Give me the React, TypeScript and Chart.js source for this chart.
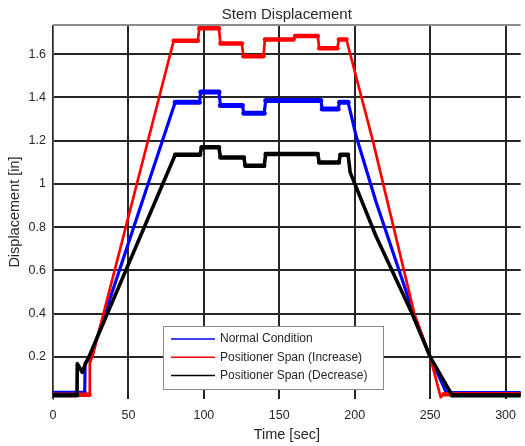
import React, { useEffect, useRef } from "react";
import { Chart, registerables } from "chart.js";

Chart.register(...registerables);

// ---- Data (time [sec], displacement [in]) ----
const normalTime = [0, 21, 21.3, 23, 25, 81, 97, 98, 110, 111, 125.5, 126.5, 140, 141, 177.5, 178.5, 189, 190, 195.6, 201, 214, 239, 250, 261, 310];
const normalDisp = [0.032, 0.032, 0.17, 0.183, 0.2, 1.378, 1.378, 1.425, 1.425, 1.363, 1.363, 1.327, 1.327, 1.386, 1.386, 1.347, 1.347, 1.378, 1.378, 1.22, 0.92, 0.4, 0.2, 0.03, 0.03];

const increaseTime = [0, 24.2, 24.4, 26.5, 80, 96, 97, 110, 111, 125.2, 126.2, 139.5, 140.5, 159.5, 160.5, 175.5, 176.5, 188.5, 189.5, 194.5, 212, 239.5, 250, 257, 259, 310];
const increaseDisp = [0.025, 0.025, 0.17, 0.21, 1.662, 1.662, 1.72, 1.72, 1.65, 1.65, 1.59, 1.59, 1.668, 1.668, 1.684, 1.684, 1.627, 1.627, 1.668, 1.668, 1.2, 0.4, 0.2, 0.013, 0.027, 0.027];

const decreaseTime = [0, 15.9, 16.1, 19.4, 21.6, 23.8, 81, 97.5, 98.5, 110, 111, 126.5, 127.5, 140, 141, 175.5, 176.5, 189.5, 190.5, 195.6, 197, 214, 238, 250, 264.6, 310];
const decreaseDisp = [0.022, 0.022, 0.169, 0.128, 0.17, 0.2, 1.135, 1.135, 1.169, 1.169, 1.122, 1.122, 1.084, 1.084, 1.138, 1.138, 1.099, 1.099, 1.135, 1.135, 1.053, 0.76, 0.4, 0.2, 0.022, 0.022];

const seriesNames = ["Normal Condition", "Positioner Span (Increase)", "Positioner Span (Decrease)"];
const seriesColors = ["#0000ff", "#ff0000", "#000000"];

const xTicks = [0, 50, 100, 150, 200, 250, 300];
const yTicks = [0.2, 0.4, 0.6, 0.8, 1.0, 1.2, 1.4, 1.6];

const chartTitle = "Stem Displacement";
const xLabel = "Time [sec]";
const yLabel = "Displacement [in]";

const FONT = "'Liberation Sans', Arial, Helvetica, sans-serif";
const TEXT = "#262626";

const toPoints = (t: number[], v: number[]) => t.map((x, i) => ({ x, y: v[i] }));

const widthFor = (flatW: number, rampW: number) => (ctx: any) => {
  const dy = Math.abs(ctx.p1.parsed.y - ctx.p0.parsed.y);
  const dx = Math.abs(ctx.p1.parsed.x - ctx.p0.parsed.x);
  return dy < 0.005 && dx > 3 ? flatW : rampW;
};

const titlePlugin = {
  id: "customTitle",
  afterDraw(chart: any) {
    const { ctx, chartArea } = chart;
    ctx.save();
    ctx.font = `15px ${FONT}`;
    ctx.fillStyle = TEXT;
    ctx.textAlign = "center";
    ctx.textBaseline = "alphabetic";
    ctx.fillText(chartTitle, (chartArea.left + chartArea.right) / 2, 19);
    ctx.restore();
  },
};

const framePlugin = {
  id: "frame",
  afterDatasetsDraw(chart: any) {
    const { ctx, chartArea } = chart;
    ctx.save();
    ctx.strokeStyle = "#8c8c8c";
    ctx.lineWidth = 2;
    ctx.beginPath();
    ctx.moveTo(chartArea.left, chartArea.top);
    ctx.lineTo(chartArea.right, chartArea.top);
    ctx.stroke();
    ctx.restore();
  },
};

const legendPlugin = {
  id: "insideLegend",
  afterDraw(chart: any) {
    const { ctx, chartArea } = chart;
    const left = chartArea.left + 110;
    const top = chartArea.bottom - 73;
    const w = 220;
    const h = 63;
    ctx.save();
    ctx.fillStyle = "#ffffff";
    ctx.fillRect(left, top, w, h);
    ctx.strokeStyle = "#8a8a8a";
    ctx.lineWidth = 1;
    ctx.strokeRect(left + 0.5, top + 0.5, w, h);
    ctx.font = `12px ${FONT}`;
    ctx.textBaseline = "middle";
    ctx.textAlign = "left";
    seriesNames.forEach((name, i) => {
      const y = top + 13 + i * 18.3;
      ctx.strokeStyle = seriesColors[i];
      ctx.lineWidth = 1.5;
      ctx.beginPath();
      ctx.moveTo(left + 8, y);
      ctx.lineTo(left + 52, y);
      ctx.stroke();
      ctx.fillStyle = TEXT;
      ctx.fillText(name, left + 57, y);
    });
    ctx.restore();
  },
};

export default function App() {
  const canvasRef = useRef<HTMLCanvasElement | null>(null);

  useEffect(() => {
    if (!canvasRef.current) return;
    const common = { pointRadius: 0, tension: 0, borderJoinStyle: "round" as const, borderCapStyle: "round" as const };
    const chart = new Chart(canvasRef.current, {
      type: "line",
      data: {
        datasets: [
          {
            label: seriesNames[0],
            data: toPoints(normalTime, normalDisp),
            borderColor: seriesColors[0],
            borderWidth: 3,
            segment: { borderWidth: widthFor(5, 3.2) },
            order: 2,
            ...common,
          },
          {
            label: seriesNames[1],
            data: toPoints(increaseTime, increaseDisp),
            borderColor: seriesColors[1],
            borderWidth: 2.6,
            segment: { borderWidth: widthFor(4.5, 2.7) },
            order: 1,
            ...common,
          },
          {
            label: seriesNames[2],
            data: toPoints(decreaseTime, decreaseDisp),
            borderColor: seriesColors[2],
            borderWidth: 3.5,
            segment: { borderWidth: widthFor(4.5, 3.6) },
            order: 0,
            ...common,
          },
        ],
      },
      options: {
        animation: false,
        responsive: false,
        maintainAspectRatio: false,
        layout: { padding: { top: 25, left: 0, right: 0, bottom: 0 } },
        plugins: { legend: { display: false }, tooltip: { enabled: false }, title: { display: false } },
        scales: {
          x: {
            type: "linear",
            min: 0,
            max: 310,
            afterBuildTicks: (scale: any) => {
              scale.ticks = xTicks.map((value) => ({ value }));
            },
            afterFit: (scale: any) => {
              scale.height = 47;
            },
            grid: { color: "#262626", lineWidth: 2, drawTicks: false },
            border: { display: false },
            ticks: { color: TEXT, font: { family: FONT, size: 12.5 }, padding: 9, maxRotation: 0 },
            title: { display: true, text: xLabel, color: TEXT, font: { family: FONT, size: 14.5 }, padding: { top: 0, bottom: 2 } },
          },
          y: {
            type: "linear",
            min: 0.005,
            max: 1.735,
            afterBuildTicks: (scale: any) => {
              scale.ticks = yTicks.map((value) => ({ value }));
            },
            afterFit: (scale: any) => {
              scale.width = 53;
            },
            grid: { color: "#262626", lineWidth: 2, drawTicks: false },
            border: { display: true, color: "#666666", width: 1 },
            ticks: {
              color: TEXT,
              font: { family: FONT, size: 12.5 },
              padding: 7,
              callback: (v: any) => String(Number(Number(v).toFixed(1))),
            },
            title: { display: true, text: yLabel, color: TEXT, font: { family: FONT, size: 14.5 }, padding: { top: 6, bottom: 0 } },
          },
        },
      },
      plugins: [titlePlugin, framePlugin, legendPlugin],
    });
    return () => chart.destroy();
  }, []);

  return (
    <div style={{ position: "fixed", left: 0, top: 0, width: 525, height: 446, background: "#ffffff" }}>
      <canvas ref={canvasRef} width={525} height={446} style={{ display: "block" }} />
    </div>
  );
}
